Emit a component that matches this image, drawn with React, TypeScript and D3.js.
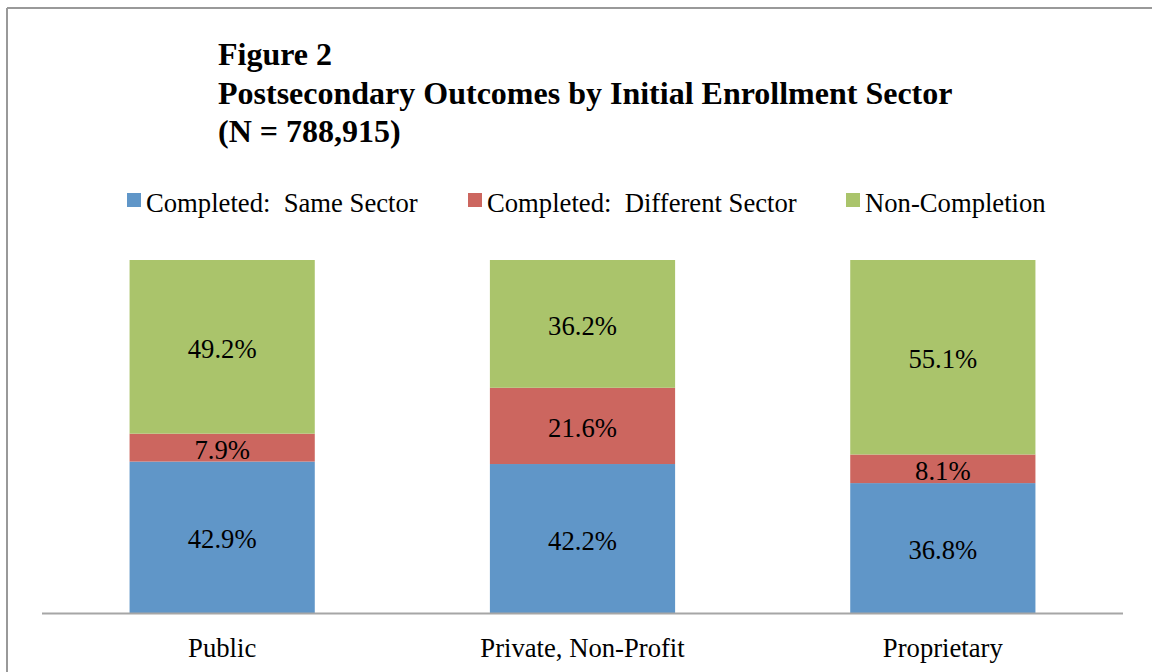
import React from "react";
import * as d3 from "d3";

const categories = ["Public", "Private, Non-Profit", "Proprietary"];
const seriesNames = ["Completed:  Same Sector", "Completed:  Different Sector", "Non-Completion"];
const sameSector = [42.9, 42.2, 36.8];
const differentSector = [7.9, 21.6, 8.1];
const nonCompletion = [49.2, 36.2, 55.1];
const colors = ["#6096C8", "#CC665F", "#AAC46B"];
const titleLines = ["Figure 2", "Postsecondary Outcomes by Initial Enrollment Sector", "(N = 788,915)"];
const legendX = [127, 468, 846];

const W = 1152, H = 672;
const FONT = "'Liberation Serif', 'Times New Roman', serif";
const FS = 26.67;

export default function App() {
  const rows = categories.map((c, i) => ({
    cat: c,
    s0: sameSector[i],
    s1: differentSector[i],
    s2: nonCompletion[i],
  }));
  const stack = d3.stack<any>().keys(["s0", "s1", "s2"])(rows);
  const x = d3.scaleBand().domain(categories).range([42, 1123]).paddingInner(0.486).paddingOuter(0.243);
  const y = d3.scaleLinear().domain([0, 100]).range([613, 260]);
  return (
    <svg width={W} height={H} style={{ position: "fixed", left: 0, top: 0, background: "#fff" }}>
      <rect x={0} y={0} width={W} height={H} fill="#fff" />
      <line x1={7} y1={8} x2={W} y2={8} stroke="#999" strokeWidth={2} />
      <line x1={7} y1={8} x2={7} y2={H} stroke="#999" strokeWidth={2} />
      {titleLines.map((t, i) => (
        <text key={i} x={218} y={65 + i * 38.5} fontFamily={FONT} fontWeight="bold" fontSize={32} fill="#000">
          {t}
        </text>
      ))}
      {seriesNames.map((n, i) => (
        <g key={n}>
          <rect x={legendX[i]} y={193} width={14} height={14} fill={colors[i]} />
          <text x={legendX[i] + 19} y={212} fontFamily={FONT} fontSize={FS} fill="#000" style={{ whiteSpace: "pre" }}>
            {n}
          </text>
        </g>
      ))}
      {stack.map((layer, li) => (
        <g key={li}>
          {layer.map((d, i) => {
            const bx = x(categories[i])!;
            const y0 = y(d[0]);
            const y1 = y(d[1]);
            return (
              <g key={i}>
                <rect x={bx} y={y1} width={x.bandwidth()} height={y0 - y1} fill={colors[li]} />
                <text
                  x={bx + x.bandwidth() / 2}
                  y={(y0 + y1) / 2 + 11}
                  textAnchor="middle"
                  fontFamily={FONT}
                  fontSize={FS}
                  fill="#000"
                >
                  {(d[1] - d[0]).toFixed(1)}%
                </text>
              </g>
            );
          })}
        </g>
      ))}
      <line x1={42} y1={613.5} x2={1123} y2={613.5} stroke="#A6A6A6" strokeWidth={2} />
      {categories.map((c) => (
        <text key={c} x={x(c)! + x.bandwidth() / 2} y={657} textAnchor="middle" fontFamily={FONT} fontSize={FS} fill="#000">
          {c}
        </text>
      ))}
    </svg>
  );
}
